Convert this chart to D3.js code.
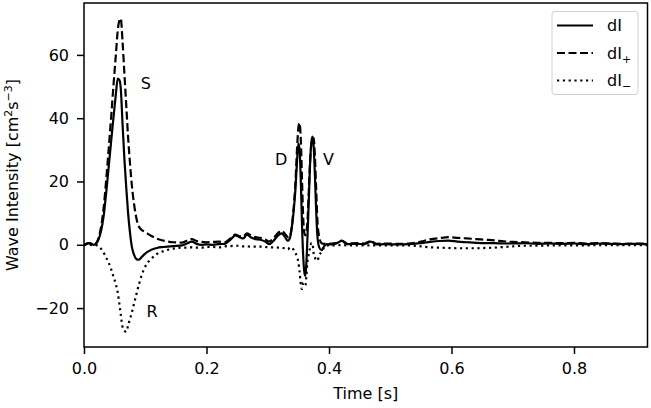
<!DOCTYPE html>
<html>
<head>
<meta charset="utf-8">
<script src="https://cdn.jsdelivr.net/npm/d3@7"></script>
<style>
    body { margin: 0; background: #fff; }
    svg { display: block; font-family: "DejaVu Sans", sans-serif; }
</style>
</head>
<body>
<svg id="chart" width="651" height="408"></svg>
<script>
// time samples [s] and wave intensity [cm^2 s^-3]
let time = [
    0.000, 0.004, 0.008, 0.012, 0.016, 0.020, 0.024, 0.028, 0.032, 0.036,
    0.040, 0.044, 0.048, 0.052, 0.055, 0.058, 0.060, 0.063, 0.066, 0.069,
    0.072, 0.075, 0.078, 0.082, 0.086, 0.090, 0.094, 0.098, 0.103, 0.110,
    0.119, 0.130, 0.146, 0.160, 0.168, 0.176, 0.184, 0.192, 0.200, 0.210,
    0.220, 0.230, 0.240, 0.247, 0.254, 0.260, 0.266, 0.272, 0.280, 0.288,
    0.296, 0.302, 0.310, 0.317, 0.323, 0.328, 0.333, 0.336, 0.339, 0.342,
    0.345, 0.348, 0.350, 0.352, 0.354, 0.356, 0.358, 0.360, 0.3615, 0.363,
    0.365, 0.367, 0.369, 0.371, 0.373, 0.375, 0.377, 0.379, 0.381, 0.384,
    0.388, 0.392, 0.396, 0.400, 0.410, 0.421, 0.430, 0.445, 0.458, 0.468,
    0.478, 0.490, 0.510, 0.530, 0.550, 0.565, 0.580, 0.595, 0.610, 0.625,
    0.640, 0.655, 0.670, 0.685, 0.700, 0.720, 0.740, 0.760, 0.780, 0.800,
    0.820, 0.840, 0.860, 0.880, 0.900, 0.920
];

let dI = [
    0, 0.3, 0.5, 0.3, 0.0, 0.4, 1.8, 4.5, 9.0, 16,
    24, 32, 40, 47.5, 52.5, 52, 49.5, 38, 27, 18,
    10, 4, -0.5, -3.3, -4.6, -4.7, -3.9, -3.1, -2.3, -1.6,
    -1.0, -0.7, -0.4, -0.2, 0.4, 1.0, 0.3, 0.0, 0.1, 0.0,
    0.2, 0.3, 1.8, 3.0, 2.4, 2.0, 3.2, 2.4, 1.8, 1.6,
    1.0, 0.2, 1.4, 3.0, 3.6, 2.5, 1.2, 2, 5, 10,
    17, 27, 32, 30, 20, 6, -4, -9, -9.8, -6,
    3, 14, 25, 32, 34.2, 31, 22, 11, 3, -0.8,
    -1.7, -0.5, 0.2, 0.1, 0.3, 1.2, 0.2, 0.3, 0.2, 1.0,
    0.1, 0.2, 0.1, 0.2, 0.5, 0.9, 1.2, 1.3, 1.0, 0.8,
    0.6, 0.5, 0.5, 0.4, 0.4, 0.5, 0.3, 0.4, 0.3, 0.4,
    0.2, 0.4, 0.3, 0.2, 0.3, 0.2
];

let dIplus = [
    0, 0.3, 0.5, 0.3, 0.0, 0.5, 2.3, 5.8, 11.5, 20,
    29.5, 39.5, 50, 60, 67.5, 71, 71.5, 64, 54, 44,
    34, 26, 19, 12.5, 8, 5.6, 4.7, 4.2, 3.6, 2.8,
    1.9, 1.3, 0.8, 0.7, 1.3, 1.8, 1.2, 0.9, 0.8, 0.9,
    1.0, 0.8, 2.2, 3.2, 2.7, 2.6, 3.6, 3.0, 2.4, 2.2,
    1.7, 1.0, 2.2, 3.8, 4.4, 3.5, 2.4, 2.5, 5.5, 11,
    19, 31, 37, 38.5, 33, 20, 8, 3.5, 3, 4,
    8, 17, 26, 31.5, 33.3, 33.8, 28, 18, 8, 2.5,
    0.5, 0.3, 0.4, 0.3, 0.5, 1.3, 0.4, 0.5, 0.4, 1.2,
    0.3, 0.4, 0.3, 0.4, 1.0, 1.7, 2.1, 2.4, 2.2, 2.0,
    1.8, 1.6, 1.4, 1.1, 0.9, 0.8, 0.6, 0.6, 0.5, 0.6,
    0.4, 0.5, 0.4, 0.3, 0.4, 0.3
];

let dIminus = [
    0, 0, 0, 0, 0, -0.1, -0.5, -1.3, -2.5, -4,
    -5.5, -7.5, -10, -12.5, -15, -19, -22, -26, -27.2, -27.5,
    -25.5, -23.5, -21.5, -18.3, -15.3, -12.3, -9.7, -7.7, -5.9, -4.4,
    -2.9, -2.0, -1.2, -0.9, -0.9, -0.8, -0.9, -0.9, -0.7, -0.7,
    -0.8, -0.5, -0.4, -0.3, -0.3, -0.5, -0.5, -0.6, -0.6, -0.6,
    -0.7, -0.8, -0.8, -0.9, -1.0, -1.1, -1.5, -0.8, -1.0, -1.5,
    -2.5, -4, -5.5, -8.5, -12.5, -14, -12, -12.5, -12.8, -10,
    -5, -3, -1, 0.5, 0.5, -2.8, -4, -5, -5, -3.3,
    -2.2, -0.8, -0.2, -0.2, -0.2, -0.1, -0.2, -0.2, -0.2, -0.2,
    -0.2, -0.2, -0.2, -0.2, -0.5, -0.8, -0.9, -1.0, -1.1, -1.1,
    -1.1, -1.0, -0.9, -0.7, -0.5, -0.3, -0.3, -0.2, -0.2, -0.2,
    -0.2, -0.1, -0.1, -0.1, -0.1, -0.1
];

let xTicks = [0, 0.2, 0.4, 0.6, 0.8];
let yTicks = [-20, 0, 20, 40, 60];

let waveLabels = ["S", "R", "D", "V"];
let waveLabelTime = [0.101, 0.111, 0.322, 0.399];
let waveLabelValue = [51, -21, 27, 27];

let legendNames = ["dI", "dI", "dI"];
let legendSubs = ["", "+", "\u2212"];

let svg = d3.select('#chart');

let margin = {top: 3, left: 84, bottom: 61, right: 3.5};
let width = 651;
let height = 408;
let fontSize = "16px";

let x = d3.scaleLinear().domain([0, 0.92]).range([margin.left, width - margin.right]);
let y = d3.scaleLinear().domain([-32.3, 76.4]).range([height - margin.bottom, margin.top]);

// axes
let xAxis = d3.axisBottom(x).tickValues(xTicks).tickFormat(d3.format(".1f")).tickSize(7).tickPadding(9);
let yAxis = d3.axisLeft(y).tickValues(yTicks).tickFormat(d => d < 0 ? "\u2212" + Math.abs(d) : d).tickSize(7).tickPadding(8);

let gx = svg.append("g")
    .attr("transform", "translate(" + [0, height - margin.bottom] + ")")
    .call(xAxis);
let gy = svg.append("g")
    .attr("transform", "translate(" + [margin.left, 0] + ")")
    .call(yAxis);

[gx, gy].forEach(g => {
    g.select(".domain").remove();
    g.selectAll("line").attr("stroke", "#000").attr("stroke-width", 1.5);
    g.selectAll("text").attr("fill", "#000").style("font-size", fontSize).style("font-family", "DejaVu Sans");
});

// the three curves
let series = [
    {values: dI, dash: null},
    {values: dIplus, dash: "8,3.5"},
    {values: dIminus, dash: "2.2,3.6"}
];

let line = (vals) => d3.line()
    .x((d, i) => x(time[i]))
    .y(d => y(d))
    .curve(d3.curveMonotoneX)(vals);

svg.append("clipPath").attr("id", "plotclip")
    .append("rect")
    .attr("x", margin.left).attr("y", margin.top)
    .attr("width", width - margin.left - margin.right)
    .attr("height", height - margin.top - margin.bottom);

svg.append("g").attr("clip-path", "url(#plotclip)")
    .selectAll("path")
    .data(series)
    .enter()
    .append("path")
    .attr("d", d => line(d.values))
    .attr("fill", "none")
    .attr("stroke", "#000")
    .attr("stroke-width", 2.2)
    .attr("stroke-dasharray", d => d.dash);

// frame
svg.append("rect")
    .attr("x", margin.left).attr("y", margin.top)
    .attr("width", width - margin.left - margin.right)
    .attr("height", height - margin.top - margin.bottom)
    .attr("fill", "none")
    .attr("stroke", "#000")
    .attr("stroke-width", 1.5);

// wave annotations
svg.selectAll("text.wave")
    .data(waveLabels)
    .enter()
    .append("text")
    .attr("class", "wave")
    .attr("x", (d, i) => x(waveLabelTime[i]))
    .attr("y", (d, i) => y(waveLabelValue[i]))
    .attr("dy", "0.36em")
    .style("text-anchor", "middle")
    .style("font-size", fontSize)
    .text(d => d);

// axis labels
svg.append("text")
    .attr("transform", "translate(" + (x(0.46)) + " ," + 399 + ")")
    .style("text-anchor", "middle")
    .style("font-size", fontSize)
    .text("Time [s]");

let ylab = svg.append("text")
    .attr("transform", "translate(" + 18 + " ," + ((margin.top + height - margin.bottom) / 2) + "), rotate(-90)")
    .style("text-anchor", "middle")
    .style("font-size", fontSize);
ylab.append("tspan").text("Wave Intensity [cm");
ylab.append("tspan").attr("dy", -6).style("font-size", "11px").text("2");
ylab.append("tspan").attr("dy", 6).text("s");
ylab.append("tspan").attr("dy", -6).style("font-size", "11px").text("\u22123");
ylab.append("tspan").attr("dy", 6).text("]");

// legend
let legend = svg.append("g").attr("transform", "translate(" + [552, 11.5] + ")");
legend.append("rect")
    .attr("width", 86).attr("height", 83)
    .attr("rx", 3)
    .attr("fill", "#fff")
    .attr("fill-opacity", 0.8)
    .attr("stroke", "#d0d0d0")
    .attr("stroke-width", 1);

let entries = legend.selectAll("g.entry")
    .data(series)
    .enter()
    .append("g")
    .attr("class", "entry")
    .attr("transform", (d, i) => "translate(" + [0, 14 + i * 27.5] + ")");

entries.append("line")
    .attr("x1", 5).attr("x2", 41)
    .attr("stroke", "#000")
    .attr("stroke-width", 2.2)
    .attr("stroke-dasharray", d => d.dash);

let entryText = entries.append("text")
    .attr("x", 55)
    .attr("dy", "0.36em")
    .style("font-size", fontSize);
entryText.append("tspan").text((d, i) => legendNames[i]);
entryText.append("tspan")
    .attr("dy", 4)
    .style("font-size", "11px")
    .text((d, i) => legendSubs[i]);
</script>
</body>
</html>
